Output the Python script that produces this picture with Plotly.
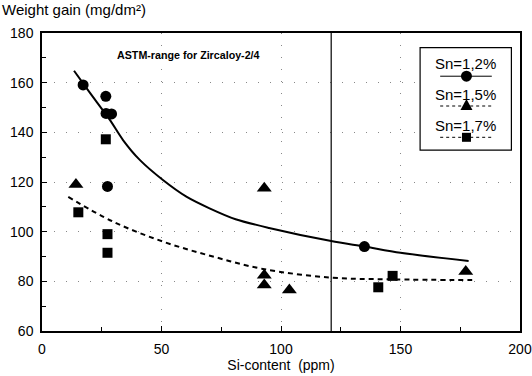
import plotly.graph_objects as go

# ---- data ----
si_12 = [17.2, 26.7, 26.8, 29.1, 27.4, 134.9]
wg_12 = [159.1, 154.5, 147.6, 147.4, 118.2, 94.0]

si_15 = [14.2, 93.0, 93.0, 93.0, 103.5, 177.3]
wg_15 = [119.0, 117.5, 82.5, 78.5, 76.5, 84.0]

si_17 = [26.7, 15.2, 27.4, 27.4, 140.7, 146.7]
wg_17 = [137.2, 107.8, 99.0, 91.5, 77.6, 82.2]

fit_12_x = [13.4, 20.0, 28.4, 33.9, 40.9, 50.6, 60.4, 70.1, 81.0, 95.0, 121.0, 135.0, 150.0, 178.5]
fit_12_y = [164.8, 156.0, 145.0, 136.9, 128.9, 120.8, 114.1, 109.4, 105.0, 101.5, 96.2, 94.0, 91.5, 88.2]

fit_17_x = [11.0, 29.8, 50.6, 71.5, 92.4, 121.0, 146.7, 180.0]
fit_17_y = [114.0, 104.0, 96.0, 90.0, 85.0, 81.5, 80.8, 80.5]

astm_limit = 121.0

legend_labels = ["Sn=1,2%", "Sn=1,5%", "Sn=1,7%"]

FONT = "Liberation Sans, Arial, sans-serif"

fig = go.Figure()

fig.add_trace(go.Scatter(x=fit_12_x, y=fit_12_y, mode="lines",
                         line=dict(color="black", width=2, shape="spline", smoothing=0.8),
                         showlegend=False, hoverinfo="skip"))
fig.add_trace(go.Scatter(x=fit_17_x, y=fit_17_y, mode="lines",
                         line=dict(color="black", width=2, shape="spline", dash="5px,4px"),
                         showlegend=False, hoverinfo="skip"))

fig.add_trace(go.Scatter(x=si_12, y=wg_12, mode="markers", name=legend_labels[0],
                         marker=dict(symbol="circle", size=11, color="black"), showlegend=False))
fig.add_trace(go.Scatter(x=si_15, y=wg_15, mode="markers", name=legend_labels[1],
                         marker=dict(symbol="triangle-up", size=13, color="black"), showlegend=False))
fig.add_trace(go.Scatter(x=si_17, y=wg_17, mode="markers", name=legend_labels[2],
                         marker=dict(symbol="square", size=10, color="black"), showlegend=False))

# ASTM range limit line
fig.add_shape(type="line", xref="x", yref="paper", x0=astm_limit, x1=astm_limit, y0=0, y1=1,
              line=dict(color="black", width=1.2))

fig.add_annotation(text="<b>ASTM-range for Zircaloy-2/4</b>", xref="paper", yref="paper",
                   x=0.306, y=0.925, showarrow=False, xanchor="center", yanchor="middle",
                   font=dict(family=FONT, size=10.7, color="black"))

# custom legend box (text above line sample, as in the original)
fig.add_shape(type="rect", xref="paper", yref="paper", x0=0.791, x1=0.982, y0=0.607, y1=0.951,
              line=dict(color="black", width=1.2), fillcolor="white")
text_y = [0.896, 0.792, 0.690]
samp_y = [0.855, 0.755, 0.650]
dashes = ["solid", "3px,3px", "3px,3px"]
for lab, ty, sy, ds in zip(legend_labels, text_y, samp_y, dashes):
    fig.add_annotation(text=lab, xref="paper", yref="paper", x=0.887, y=ty, showarrow=False,
                       xanchor="center", yanchor="middle",
                       font=dict(family=FONT, size=15, color="black"))
    fig.add_shape(type="line", xref="paper", yref="paper", x0=0.833, x1=0.941, y0=sy, y1=sy,
                  line=dict(color="black", width=1, dash=ds))
# legend symbols
fig.add_shape(type="circle", xref="paper", yref="paper", xsizemode="pixel", ysizemode="pixel",
              xanchor=0.888, yanchor=samp_y[0], x0=-5.5, x1=5.5, y0=-5.5, y1=5.5,
              fillcolor="black", line=dict(color="black", width=0))
fig.add_shape(type="path", xref="paper", yref="paper", xsizemode="pixel", ysizemode="pixel",
              xanchor=0.888, yanchor=samp_y[1], path="M -6,-4 L 6,-4 L 0,7 Z",
              fillcolor="black", line=dict(color="black", width=0))
fig.add_shape(type="rect", xref="paper", yref="paper", xsizemode="pixel", ysizemode="pixel",
              xanchor=0.888, yanchor=samp_y[2], x0=-4.5, x1=4.5, y0=-4.5, y1=4.5,
              fillcolor="black", line=dict(color="black", width=0))

fig.add_annotation(text="Weight gain (mg/dm²)", xref="paper", yref="paper",
                   x=-0.088, y=1.078, xanchor="left", yanchor="middle", showarrow=False,
                   font=dict(family=FONT, size=15, color="black"))

axis_common = dict(showline=True, linecolor="black", linewidth=1.5, mirror=True,
                   ticks="inside", ticklen=5, tickcolor="black", tickwidth=1,
                   showgrid=True, gridcolor="#888888", gridwidth=1, griddash="1px,11px",
                   zeroline=False, automargin=False,
                   tickfont=dict(family=FONT, size=14, color="black"))

fig.update_xaxes(range=[0, 200], tickvals=[0, 50, 100, 150, 200],
                 minor=dict(ticks="inside", ticklen=4, dtick=25, tick0=0, tickcolor="black", showgrid=False),
                 ticklabelstandoff=4,
                 title=dict(text="Si-content  (ppm)", font=dict(family=FONT, size=14, color="black"), standoff=5),
                 **axis_common)
fig.update_yaxes(range=[60, 180], tickvals=[60, 80, 100, 120, 140, 160, 180],
                 minor=dict(ticks="inside", ticklen=4, dtick=10, tick0=0, tickcolor="black", showgrid=False),
                 ticklabelstandoff=4,
                 **axis_common)

fig.update_layout(width=532, height=376, margin=dict(l=42, r=12, t=33, b=45),
                  paper_bgcolor="white", plot_bgcolor="white",
                  font=dict(family=FONT, color="black"), showlegend=False)

fig.write_html("out.html")
